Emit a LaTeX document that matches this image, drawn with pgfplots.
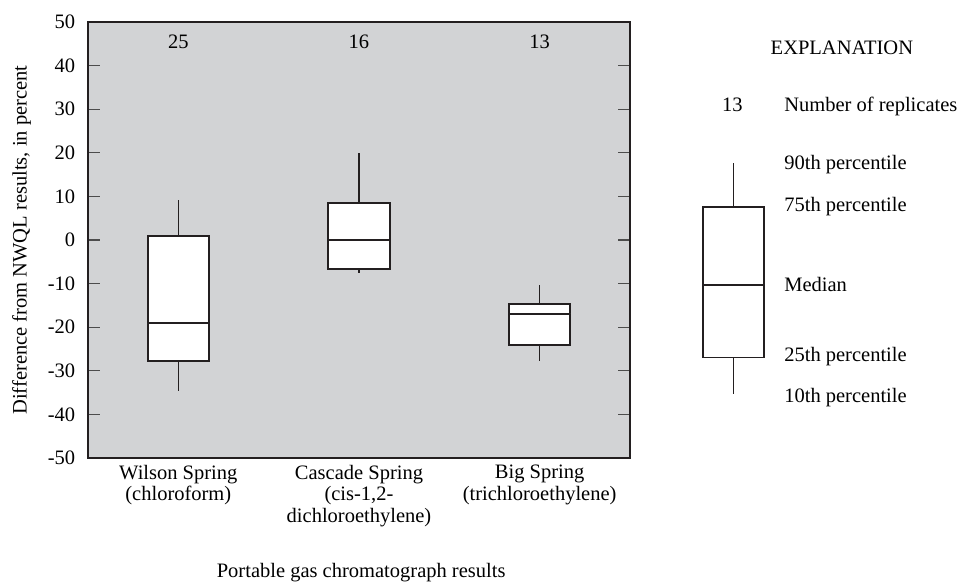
\documentclass[border=0pt]{standalone}
\usepackage{pgfplots}
\pgfplotsset{compat=1.18}
\usepgfplotslibrary{statistics}
\usepackage{fontspec}
\setmainfont{Liberation Serif}
\definecolor{bgray}{RGB}{210,211,213}
\definecolor{ink}{RGB}{35,31,32}
\begin{document}
\fontsize{10.25}{10.75}\selectfont
\begin{tikzpicture}
\useasboundingbox (-44pt,-64.5pt) rectangle (436pt,229pt);
\begin{axis}[
  scale only axis,
  width=271pt, height=218pt,
  xmin=0.5, xmax=3.5, ymin=-50, ymax=50,
  clip=false,
  axis background/.style={fill=bgray},
  axis line style={draw=ink, line width=1pt},
  xtick={1,2,3},
  xticklabels={{Wilson Spring\\(chloroform)},{Cascade Spring\\(cis-1,2-\\dichloroethylene)},{Big Spring\\(trichloroethylene)}},
  xticklabel style={align=center, font=\fontsize{10.25}{10.75}\selectfont},
  major x tick style={draw=none},
  ytick={-50,-40,...,50},
  yticklabels={-50,-40,-30,-20,-10,0,10,20,30,40,50},
  yticklabel style={xshift=-2.8pt, font=\fontsize{10.25}{10.75}\selectfont},
  ytick pos=both,
  yticklabel pos=left,
  tick align=inside,
  major tick length=6pt,
  major y tick style={draw=black!70, line width=0.6pt},
  xlabel={Portable gas chromatograph results},
  xlabel style={at={(axis description cs:0.504,-0.264)}, anchor=mid, font=\fontsize{10.25}{10.75}\selectfont},
  ylabel={Difference from NWQL results, in percent},
  ylabel style={at={(axis description cs:-0.122,0.5)}, anchor=mid, font=\fontsize{10.25}{10.75}\selectfont},
  boxplot/draw direction=y,
  boxplot/whisker extend=0,
  boxplot/box extend=0.34,
]
% data boxes
\addplot[draw=ink, fill=white, line width=1pt,
  boxplot/every whisker/.style={line width=0.6pt},
  boxplot prepared={draw position=1, lower whisker=-34.7, lower quartile=-27.8, median=-19.1, upper quartile=0.85, upper whisker=9.2}] coordinates {};
\addplot[draw=ink, fill=white, line width=1pt,
  boxplot/every whisker/.style={line width=0.6pt},
  boxplot prepared={draw position=2, lower whisker=-7.6, lower quartile=-6.65, median=0, upper quartile=8.4, upper whisker=20}] coordinates {};
\addplot[draw=ink, fill=white, line width=1pt,
  boxplot/every whisker/.style={line width=0.6pt},
  boxplot prepared={draw position=3, lower whisker=-27.7, lower quartile=-24.1, median=-16.9, upper quartile=-14.6, upper whisker=-10.4}] coordinates {};
% explanation box
\addplot[draw=ink, fill=white, line width=0.75pt,
  boxplot/every whisker/.style={line width=0.45pt},
  boxplot prepared={draw position=4.073, lower whisker=-35.3, lower quartile=-26.9, median=-10.3, upper quartile=7.6, upper whisker=17.6}] coordinates {};
% replicate counts
\node[anchor=mid] at (axis cs:1,45.1) {25};
\node[anchor=mid] at (axis cs:2,45.1) {16};
\node[anchor=mid] at (axis cs:3,45.1) {13};
% explanation text
\node[anchor=mid] at (axis cs:4.673,43.6) {EXPLANATION};
\node[anchor=mid] at (axis cs:4.067,30.5) {13};
\node[anchor=mid west,inner sep=0pt] at (axis cs:4.352,30.5) {Number of replicates};
\node[anchor=mid west,inner sep=0pt] at (axis cs:4.352,17.2) {90th percentile};
\node[anchor=mid west,inner sep=0pt] at (axis cs:4.352,7.6) {75th percentile};
\node[anchor=mid west,inner sep=0pt] at (axis cs:4.352,-10.8) {Median};
\node[anchor=mid west,inner sep=0pt] at (axis cs:4.352,-26.8) {25th percentile};
\node[anchor=mid west,inner sep=0pt] at (axis cs:4.352,-36.2) {10th percentile};
\end{axis}
\end{tikzpicture}
\end{document}
